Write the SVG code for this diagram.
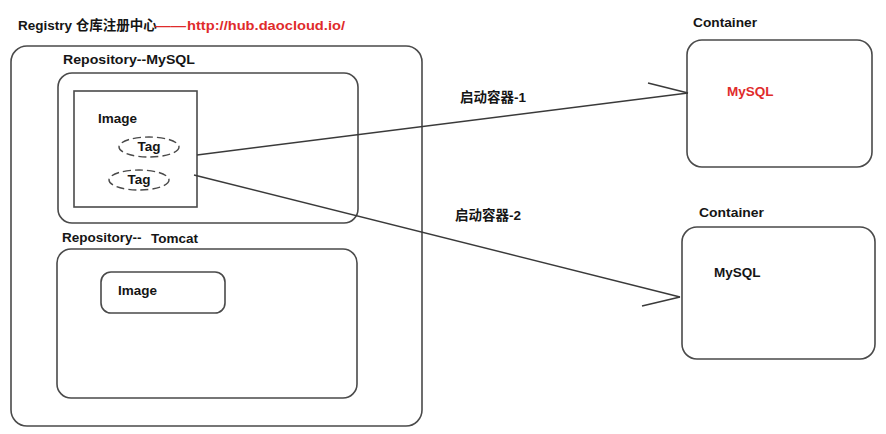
<svg xmlns="http://www.w3.org/2000/svg" width="886" height="434" viewBox="0 0 886 434">
<style>
  text { font-family: "Liberation Sans", "Noto Sans CJK SC", sans-serif; font-weight: bold; font-size: 13.5px; fill: #151515; }
  .red { fill: #e02b2b; }
  .box { fill: none; stroke: #4a4a4a; stroke-width: 1.6; }
  .tag { fill: none; stroke: #4a4a4a; stroke-width: 1.4; stroke-dasharray: 8 4; }
  .conn { fill: none; stroke: #3a3a3a; stroke-width: 1.5; }
</style>
<rect width="886" height="434" fill="#ffffff"/>

<g id="registry">
  <text x="18" y="30">Registry 仓库注册中心</text>
  <text class="red" x="155" y="30" textLength="31" lengthAdjust="spacingAndGlyphs">——</text>
  <text class="red" x="187" y="30" textLength="158" lengthAdjust="spacingAndGlyphs">http://hub.daocloud.io/</text>
  <rect class="box" x="11" y="46" width="411" height="380" rx="16"/>
</g>

<g id="repo-mysql">
  <text x="63" y="64" textLength="132" lengthAdjust="spacingAndGlyphs">Repository--MySQL</text>
  <rect class="box" x="58" y="73" width="300" height="150" rx="14"/>
</g>

<g id="image-mysql">
  <rect class="box" x="74" y="91" width="123" height="116"/>
  <text x="98" y="123">Image</text>
</g>

<g id="tag1">
  <ellipse class="tag" cx="149" cy="147" rx="30" ry="10"/>
  <text x="149" y="151" text-anchor="middle" font-size="11.5">Tag</text>
</g>

<g id="tag2">
  <ellipse class="tag" cx="139" cy="180" rx="30" ry="10"/>
  <text x="139" y="184" text-anchor="middle" font-size="11.5">Tag</text>
</g>

<g id="repo-tomcat">
  <text x="62" y="242">Repository--</text>
  <text x="151" y="243">Tomcat</text>
  <rect class="box" x="57" y="249" width="300" height="149" rx="14"/>
</g>

<g id="image-tomcat">
  <rect class="box" x="101" y="272" width="124" height="41" rx="10"/>
  <text x="118" y="295">Image</text>
</g>

<g id="container1">
  <text x="693" y="27" textLength="64" lengthAdjust="spacingAndGlyphs">Container</text>
  <rect class="box" x="687" y="40" width="185" height="127" rx="15"/>
  <text class="red" x="727" y="96">MySQL</text>
</g>

<g id="container2">
  <text x="699" y="217" textLength="65" lengthAdjust="spacingAndGlyphs">Container</text>
  <rect class="box" x="682" y="227" width="193" height="132" rx="15"/>
  <text x="714" y="277">MySQL</text>
</g>

<g id="connectors">
  <path class="conn" d="M197 155 L688 93"/>
  <path class="conn" d="M648 83 L688 93"/>
  <text x="460" y="102">启动容器-1</text>
  <path class="conn" d="M194 175 L680 297"/>
  <path class="conn" d="M642 306 L680 297"/>
  <text x="455" y="220">启动容器-2</text>
</g>
</svg>
